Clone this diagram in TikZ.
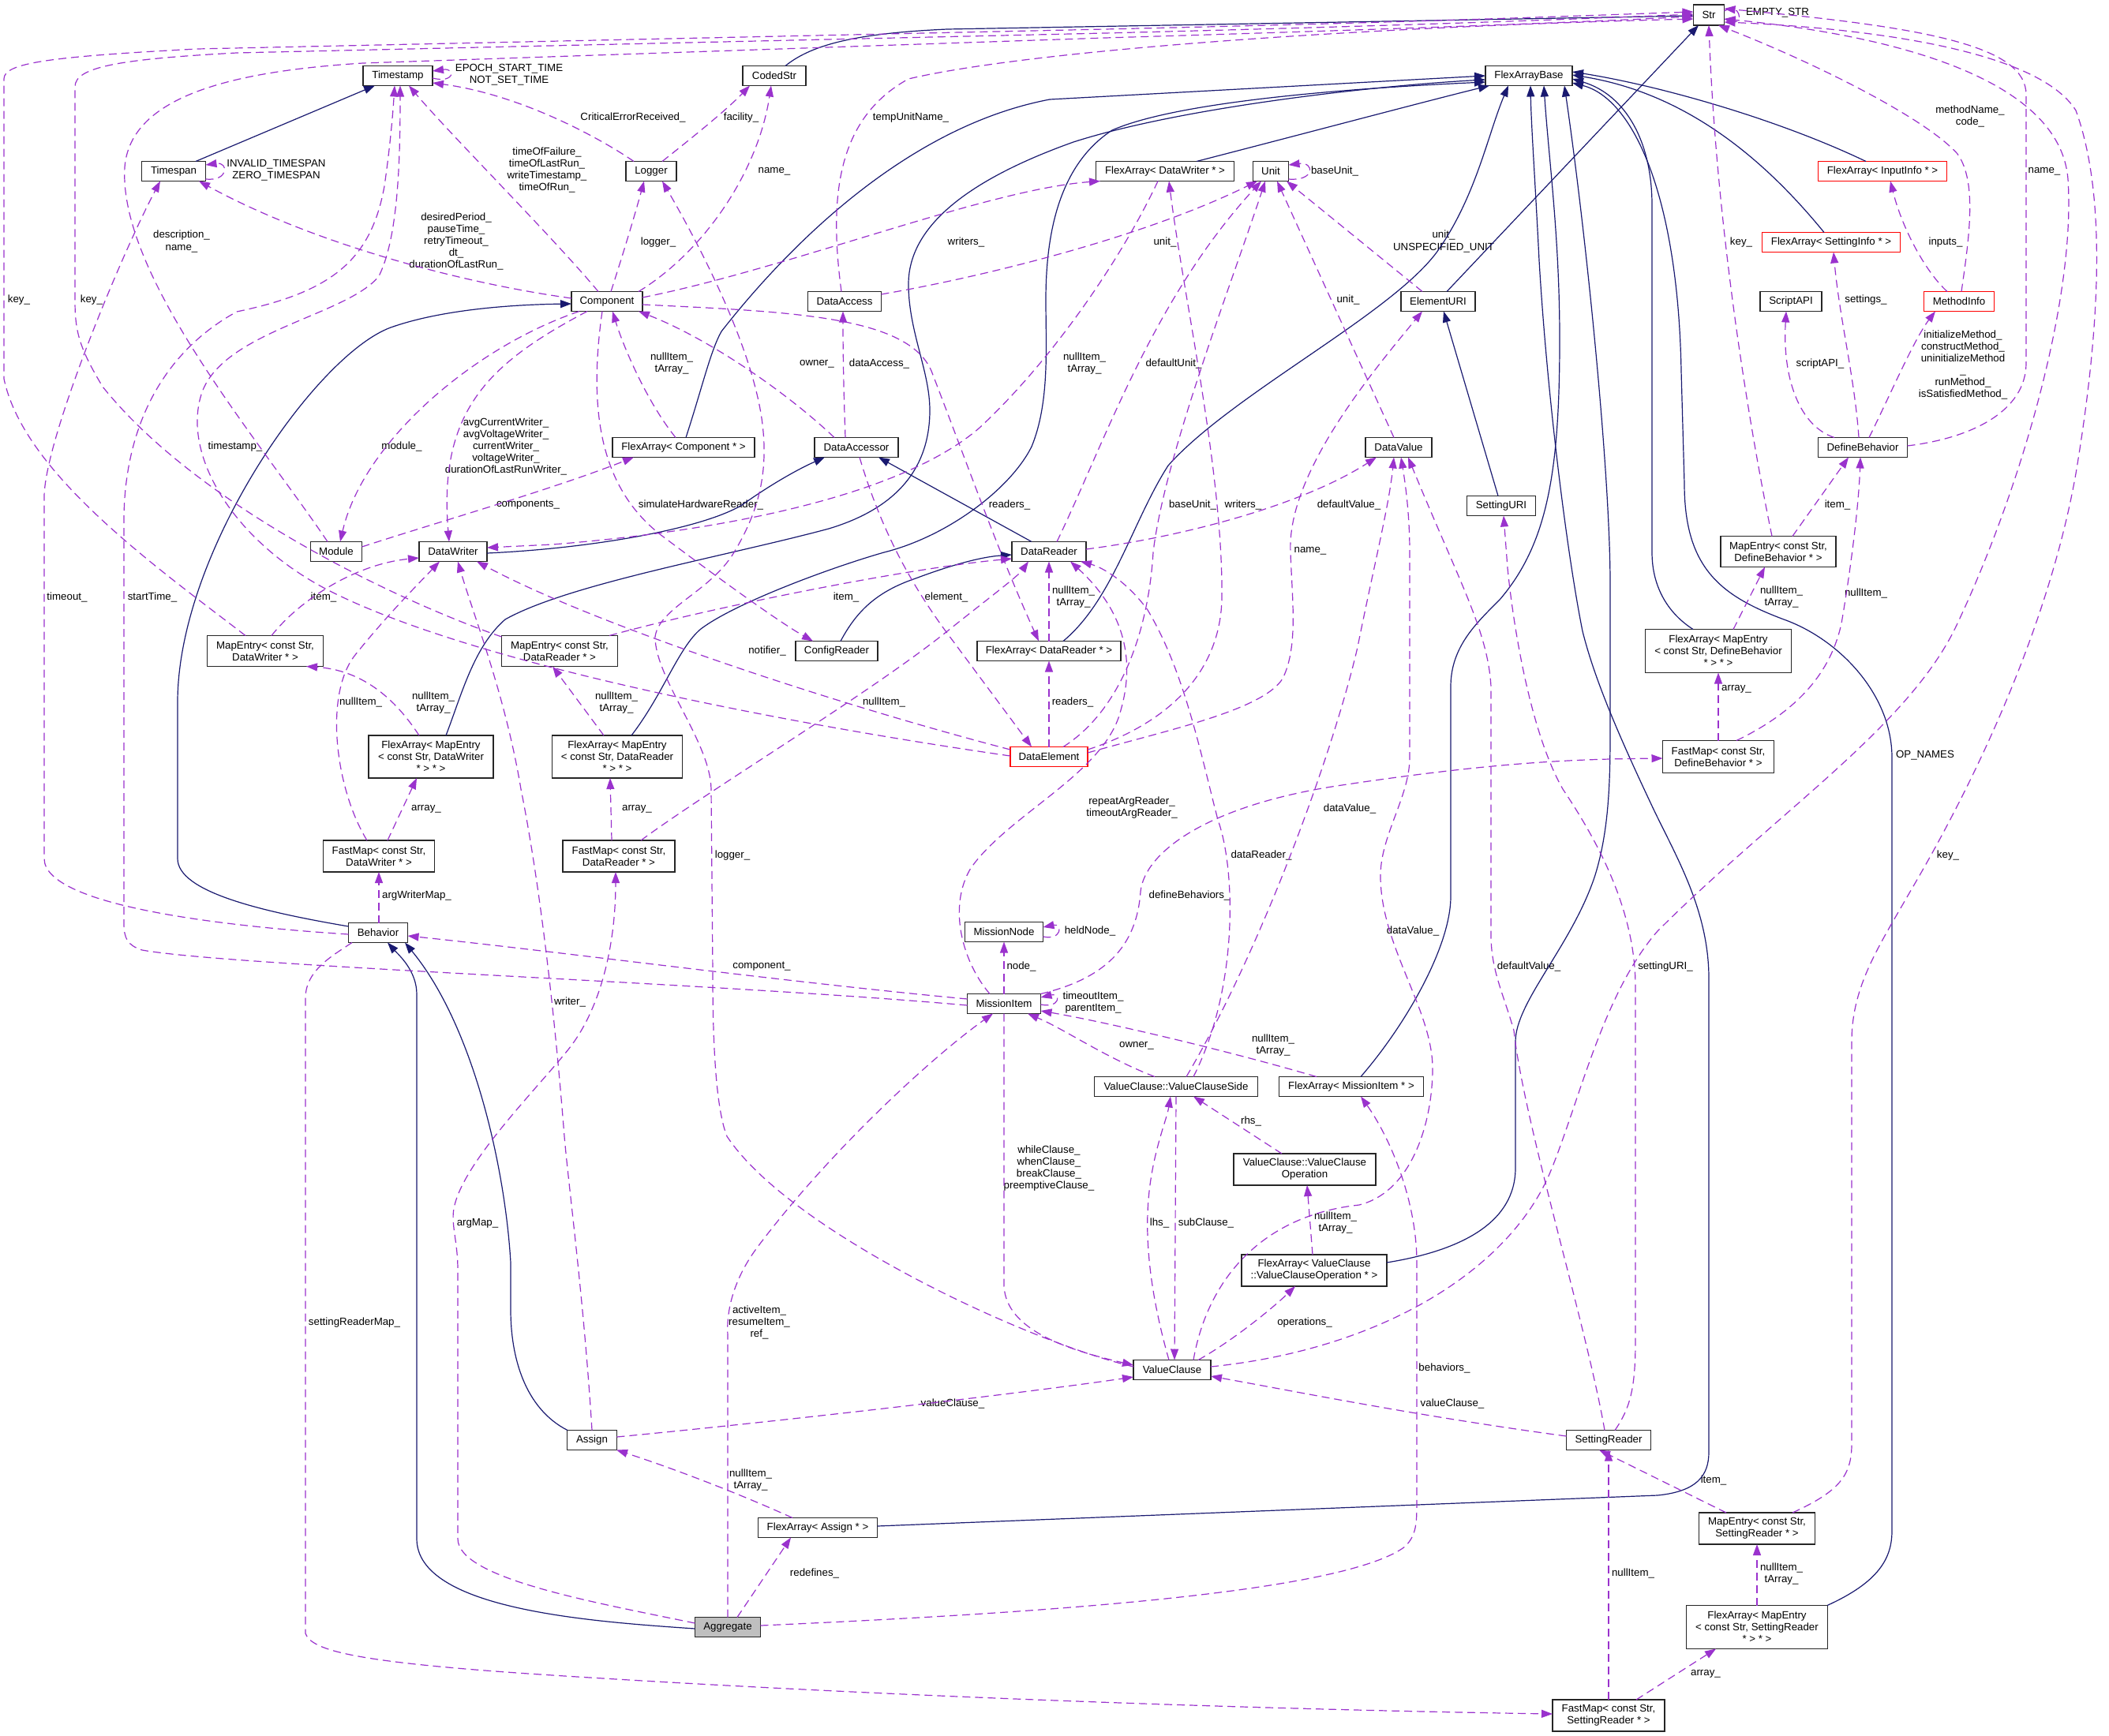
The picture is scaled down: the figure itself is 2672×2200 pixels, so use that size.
\documentclass[tikz,border=0pt]{standalone}
\usepackage{fontspec}
\setmainfont{Liberation Sans}
\usetikzlibrary{arrows.meta,calc}
\definecolor{navy}{HTML}{191970}
\definecolor{orchid}{HTML}{9A32CD}
\newcommand\dfont{\fontsize{13.3pt}{15pt}\selectfont}
\newcommand\nd[7][]{\node[box,#1,minimum width=#5pt,minimum height=#6pt] (#2) at (#3,#4) {#7};}
\newcommand\lb[4]{\node[lbl] (#1) at (#2,#3) {#4};}
\begin{document}
\begin{tikzpicture}[x=1pt,y=-1pt,
  box/.style={draw=black!85,line width=1.4pt,fill=white,inner sep=0pt,align=center,font=\dfont},
  lbl/.style={inner sep=0pt,align=center,font=\dfont},
  inh/.style={draw=navy,line width=1.2pt,-{Triangle[length=14pt,width=10pt]}},
  use/.style={draw=orchid,line width=1.2pt,dash pattern=on 10pt off 6pt,-{Triangle[length=14pt,width=10pt]}}]
\fill[white] (0,0) rectangle (2672,2200);
\useasboundingbox (0,0) rectangle (2672,2200);
% ---------------- nodes
\nd{Str}{2165}{19}{39}{26}{Str}
\nd{Timestamp}{504}{96}{88}{25}{Timestamp}
\nd{CodedStr}{981}{96}{80}{25}{CodedStr}
\nd{FAB}{1937}{96}{110}{25}{FlexArrayBase}
\nd{Timespan}{220}{217}{81}{25}{Timespan}
\nd{Logger}{825}{217}{64}{25}{Logger}
\nd{FADW}{1476}{217}{175}{25}{FlexArray< DataWriter * >}
\nd{Unit}{1610}{217}{45}{25}{Unit}
\nd[draw=red]{FAII}{2385}{217}{163}{25}{FlexArray< InputInfo * >}
\nd[draw=red]{FASI}{2320}{307}{175}{25}{FlexArray< SettingInfo * >}
\nd{Component}{769}{382}{90}{25}{Component}
\nd{DataAccess}{1070}{382}{93}{25}{DataAccess}
\nd{ElementURI}{1822}{382}{94}{25}{ElementURI}
\nd{ScriptAPI}{2269}{382}{78}{25}{ScriptAPI}
\nd[draw=red]{MethodInfo}{2482}{382}{89}{25}{MethodInfo}
\nd{FAComp}{866}{567}{180}{25}{FlexArray< Component * >}
\nd{DataAccessor}{1085}{567}{106}{25}{DataAccessor}
\nd{DataValue}{1772}{567}{84}{25}{DataValue}
\nd{DefineBehavior}{2360}{567}{113}{25}{DefineBehavior}
\nd{SettingURI}{1902}{641}{87}{25}{SettingURI}
\nd{Module}{426}{699}{65}{25}{Module}
\nd{DataWriter}{574}{699}{86}{25}{DataWriter}
\nd{DataReader}{1329}{699}{94}{25}{DataReader}
\nd{MEDB}{2253}{699}{146}{39}{MapEntry< const Str,\\ DefineBehavior * >}
\nd{MEDW}{336}{825}{147}{39}{MapEntry< const Str,\\ DataWriter * >}
\nd{MEDR}{709}{825}{147}{39}{MapEntry< const Str,\\ DataReader * >}
\nd{ConfigReader}{1060}{825}{104}{25}{ConfigReader}
\nd{FADR}{1329}{825}{182}{25}{FlexArray< DataReader * >}
\nd{FAMEDB}{2177}{825}{185}{55}{FlexArray< MapEntry\\< const Str, DefineBehavior\\ * > * >}
\nd{FAMEDW}{546}{959}{158}{54}{FlexArray< MapEntry\\< const Str, DataWriter\\ * > * >}
\nd{FAMEDR}{782}{959}{165}{54}{FlexArray< MapEntry\\< const Str, DataReader\\ * > * >}
\nd[draw=red]{DataElement}{1329}{959}{98}{25}{DataElement}
\nd{FMDB}{2177}{959}{141}{41}{FastMap< const Str,\\ DefineBehavior * >}
\nd{FMDW}{480}{1085}{141}{40}{FastMap< const Str,\\ DataWriter * >}
\nd{FMDR}{784}{1085}{142}{40}{FastMap< const Str,\\ DataReader * >}
\nd{Behavior}{479}{1182}{75}{25}{Behavior}
\nd{MissionNode}{1272}{1181}{99}{25}{MissionNode}
\nd{MissionItem}{1272}{1272}{93}{25}{MissionItem}
\nd{VCSide}{1490}{1377}{207}{25}{ValueClause::ValueClauseSide}
\nd{FAMI}{1712}{1377}{183}{25}{FlexArray< MissionItem * >}
\nd{VCOp}{1653}{1482}{180}{40}{ValueClause::ValueClause\\Operation}
\nd{FAVCOp}{1665}{1610}{184}{40}{FlexArray< ValueClause\\::ValueClauseOperation * >}
\nd{ValueClause}{1485}{1736}{98}{25}{ValueClause}
\nd{Assign}{750}{1825}{63}{25}{Assign}
\nd{SettingReader}{2038}{1825}{107}{25}{SettingReader}
\nd{FAAssign}{1036}{1936}{151}{25}{FlexArray< Assign * >}
\nd{MESR}{2226}{1937}{147}{40}{MapEntry< const Str,\\ SettingReader * >}
\nd[fill=gray!50]{Aggregate}{922}{2062}{83}{25}{Aggregate}
\nd{FAMESR}{2226}{2062}{179}{55}{FlexArray< MapEntry\\< const Str, SettingReader\\ * > * >}
\nd{FMSR}{2038}{2174}{142}{40}{FastMap< const Str,\\ SettingReader * >}
% ---------------- labels
\lb{l01}{2252}{16}{EMPTY\_STR}
\lb{l02}{645}{95}{EPOCH\_START\_TIME\\NOT\_SET\_TIME}
\lb{l03}{350}{216}{INVALID\_TIMESPAN\\ZERO\_TIMESPAN}
\lb{l04}{1691}{217}{baseUnit\_}
\lb{l05}{1381}{1180}{heldNode\_}
\lb{l06}{1385}{1271}{timeoutItem\_\\parentItem\_}
\lb{l07}{802}{149}{CriticalErrorReceived\_}
\lb{l08}{939}{149}{facility\_}
\lb{l09}{981}{217}{name\_}
\lb{l10}{834}{307}{logger\_}
\lb{l11}{693}{216}{timeOfFailure\_\\timeOfLastRun\_\\writeTimestamp\_\\timeOfRun\_}
\lb{l12}{578}{306}{desiredPeriod\_\\pauseTime\_\\retryTimeout\_\\dt\_\\durationOfLastRun\_}
\lb{l13}{509}{566}{module\_}
\lb{l14}{641}{566}{avgCurrentWriter\_\\avgVoltageWriter\_\\currentWriter\_\\voltageWriter\_\\durationOfLastRunWriter\_}
\lb{l15}{1224}{307}{writers\_}
\lb{l16}{888}{640}{simulateHardwareReader\_}
\lb{l17}{1279}{640}{readers\_}
\lb{l18}{1035}{461}{owner\_}
\lb{l19}{1114}{461}{dataAccess\_}
\lb{l20}{851}{461}{nullItem\_\\tArray\_}
\lb{l21}{1154}{149}{tempUnitName\_}
\lb{l22}{928}{1084}{logger\_}
\lb{l23}{1487}{461}{defaultUnit\_}
\lb{l24}{1374}{461}{nullItem\_\\tArray\_}
\lb{l25}{1360}{757}{nullItem\_\\tArray\_}
\lb{l26}{1359}{890}{readers\_}
\lb{l27}{1199}{757}{element\_}
\lb{l28}{972}{825}{notifier\_}
\lb{l29}{298}{566}{timestamp\_}
\lb{l30}{193}{757}{startTime\_}
\lb{l31}{85}{757}{timeout\_}
\lb{l32}{24}{380}{key\_}
\lb{l33}{116}{380}{key\_}
\lb{l34}{230}{306}{description\_\\name\_}
\lb{l35}{410}{757}{item\_}
\lb{l36}{457}{890}{nullItem\_}
\lb{l37}{549}{891}{nullItem\_\\tArray\_}
\lb{l38}{540}{1025}{array\_}
\lb{l39}{528}{1135}{argWriterMap\_}
\lb{l40}{781}{891}{nullItem\_\\tArray\_}
\lb{l41}{807}{1025}{array\_}
\lb{l42}{1120}{890}{nullItem\_}
\lb{l43}{1072}{757}{item\_}
\lb{l44}{605}{1550}{argMap\_}
\lb{l45}{449}{1676}{settingReaderMap\_}
\lb{l46}{965}{1225}{component\_}
\lb{l47}{962}{1676}{activeItem\_\\resumeItem\_\\ref\_}
\lb{l48}{1032}{1994}{redefines\_}
\lb{l49}{951}{1876}{nullItem\_\\tArray\_}
\lb{l50}{1207}{1779}{valueClause\_}
\lb{l51}{1830}{1734}{behaviors\_}
\lb{l52}{1507}{1135}{defineBehaviors\_}
\lb{l53}{1434}{1024}{repeatArgReader\_\\timeoutArgReader\_}
\lb{l54}{1294}{1225}{node\_}
\lb{l55}{1329}{1481}{whileClause\_\\whenClause\_\\breakClause\_\\preemptiveClause\_}
\lb{l56}{1440}{1325}{owner\_}
\lb{l57}{1613}{1325}{nullItem\_\\tArray\_}
\lb{l58}{1598}{1084}{dataReader\_}
\lb{l59}{1710}{1025}{dataValue\_}
\lb{l60}{1790}{1180}{dataValue\_}
\lb{l61}{1709}{640}{defaultValue\_}
\lb{l62}{1660}{698}{name\_}
\lb{l63}{1511}{640}{baseUnit\_}
\lb{l64}{1575}{640}{writers\_}
\lb{l65}{722}{1270}{writer\_}
\lb{l66}{1840}{1779}{valueClause\_}
\lb{l67}{1937}{1225}{defaultValue\_}
\lb{l68}{2110}{1225}{settingURI\_}
\lb{l69}{2171}{1876}{item\_}
\lb{l70}{2468}{1084}{key\_}
\lb{l71}{2257}{1995}{nullItem\_\\tArray\_}
\lb{l72}{2161}{2121}{array\_}
\lb{l73}{2069}{1994}{nullItem\_}
\lb{l74}{1469}{1550}{lhs\_}
\lb{l75}{1528}{1550}{subClause\_}
\lb{l76}{1585}{1421}{rhs\_}
\lb{l77}{1692}{1550}{nullItem\_\\tArray\_}
\lb{l78}{1653}{1676}{operations\_}
\lb{l79}{2439}{957}{OP\_NAMES}
\lb{l80}{2496}{148}{methodName\_\\code\_}
\lb{l81}{2465}{307}{inputs\_}
\lb{l82}{2306}{461}{scriptAPI\_}
\lb{l83}{2364}{380}{settings\_}
\lb{l84}{2487}{462}{initializeMethod\_\\constructMethod\_\\uninitializeMethod\\\_\\runMethod\_\\isSatisfiedMethod\_}
\lb{l85}{2590}{217}{name\_}
\lb{l86}{2206}{307}{key\_}
\lb{l87}{2328}{640}{item\_}
\lb{l88}{2257}{757}{nullItem\_\\tArray\_}
\lb{l89}{2200}{873}{array\_}
\lb{l90}{2364}{752}{nullItem\_}
\lb{l91}{669}{640}{components\_}
\lb{l92}{1708}{380}{unit\_}
\lb{l93}{1829}{306}{unit\_\\UNSPECIFIED\_UNIT}
\lb{l94}{1476}{307}{unit\_}
% ---------------- inheritance
\draw[inh] ($(CodedStr)+(14,-12.5)$) .. controls (1030,55) and (1090,42) .. (1200,37) -- ($(Str)+(-19.5,1)$);
\draw[inh] ($(Timespan)+(28,-12.5)$) -- ($(Timestamp)+(-29,12.5)$);
\draw[inh] ($(ElementURI)+(11,-12.5)$) -- ($(Str)+(-13,13)$);
\draw[inh] ($(SettingURI)+(-4,-12.5)$) -- ($(ElementURI)+(7,12.5)$);
\draw[inh] ($(DataReader)+(-22,-12.5)$) -- ($(DataAccessor)+(28,12.5)$);
\draw[inh] ($(DataWriter)+(43,2)$) .. controls (750,695) and (890,670) .. (940,640) .. controls (975,615) and (1010,595) .. ($(DataAccessor)+(-40,12.5)$);
\draw[inh] ($(ConfigReader)+(5,-12.5)$) .. controls (1085,775) and (1110,750) .. (1160,733) .. controls (1200,718) and (1240,706) .. ($(DataReader)+(-47,4)$);
\draw[inh] ($(Behavior)+(-37.5,-8)$) .. controls (330,1155) and (225,1130) .. (225,1088) -- (225,890) .. controls (225,700) and (400,450) .. (495,415) .. controls (560,392) and (650,386) .. ($(Component)+(-45,3)$);
\draw[inh] ($(Assign)+(-31,-12.5)$) .. controls (665,1785) and (647,1720) .. (647,1660) -- (647,1600) .. controls (640,1480) and (600,1300) .. ($(Behavior)+(34,12.5)$);
\draw[inh] ($(Aggregate)+(-41.5,2)$) .. controls (750,2055) and (528,2040) .. (528,1950) -- (528,1260) .. controls (528,1230) and (505,1210) .. ($(Behavior)+(12,12.5)$);
\draw[inh] ($(FAComp)+(3,-12.5)$) .. controls (890,490) and (900,445) .. (914,420) .. controls (1000,310) and (1150,160) .. (1330,126) -- ($(FAB)+(-55,0)$);
\draw[inh] ($(FAMEDW)+(19,-27)$) .. controls (585,880) and (600,820) .. (640,785) .. controls (720,740) and (920,705) .. (1050,670) .. controls (1150,640) and (1178,580) .. (1178,520) .. controls (1178,470) and (1151,420) .. (1151,360) .. controls (1151,290) and (1220,230) .. (1360,180) .. controls (1500,135) and (1750,108) .. ($(FAB)+(-55,5)$);
\draw[inh] ($(FAMEDR)+(18,-27)$) .. controls (840,880) and (860,820) .. (888,797) .. controls (930,765) and (1050,720) .. (1120,700) .. controls (1200,680) and (1280,620) .. (1307,566) .. controls (1330,510) and (1325,440) .. (1325,380) .. controls (1325,300) and (1340,210) .. (1409,165) .. controls (1500,125) and (1750,110) .. ($(FAB)+(-55,8)$);
\draw[inh] ($(FADW)+(40,-12.5)$) .. controls (1650,170) and (1800,130) .. ($(FAB)+(-50,12.5)$);
\draw[inh] ($(FADR)+(18,-12.5)$) .. controls (1410,760) and (1435,660) .. (1480,590) .. controls (1560,500) and (1760,400) .. (1820,320) .. controls (1870,250) and (1885,170) .. ($(FAB)+(-26,12.5)$);
\draw[inh] ($(FAMI)+(12,-12.5)$) .. controls (1780,1300) and (1838,1200) .. (1838,1136) -- (1838,870) .. controls (1838,820) and (1870,790) .. (1900,760) .. controls (1960,690) and (1976,600) .. (1976,430) .. controls (1976,300) and (1962,200) .. ($(FAB)+(19,12.5)$);
\draw[inh] ($(FAAssign)+(75.5,-2)$) -- (2100,1895) .. controls (2150,1890) and (2165,1870) .. (2165,1840) -- (2165,1240) .. controls (2165,1150) and (2120,1080) .. (2090,1015) .. controls (2050,930) and (2020,860) .. (2005,800) .. controls (1985,700) and (1960,500) .. (1950,330) .. controls (1945,230) and (1940,160) .. ($(FAB)+(2,12.5)$);
\draw[inh] ($(FAVCOp)+(92,-10)$) .. controls (1850,1585) and (1920,1550) .. (1920,1480) -- (1920,1320) .. controls (1920,1270) and (1990,1200) .. (2020,1112) .. controls (2040,1050) and (2040,980) .. (2040,918) -- (2040,740) .. controls (2040,600) and (2010,300) .. ($(FAB)+(45,12.5)$);
\draw[inh] ($(FAMEDB)+(-32,-27.5)$) .. controls (2110,775) and (2093,740) .. (2093,700) -- (2093,260) .. controls (2093,180) and (2060,120) .. ($(FAB)+(55,4)$);
\draw[inh] ($(FAMESR)+(89,-27.5)$) .. controls (2380,2005) and (2397,1975) .. (2397,1940) -- (2397,960) .. controls (2397,880) and (2330,810) .. (2260,785) .. controls (2180,755) and (2134,720) .. (2134,613) -- (2130,470) .. controls (2126,250) and (2070,125) .. ($(FAB)+(55,9)$);
\draw[inh] ($(FAII)+(-21,-12.5)$) .. controls (2250,150) and (2100,108) .. ($(FAB)+(55,-5)$);
\draw[inh] ($(FASI)+(-9,-12.5)$) .. controls (2250,220) and (2150,120) .. ($(FAB)+(55,-1)$);
% ---------------- usage: self loops
\draw[use] ($(Str)+(19.5,-5)$) .. controls (2205,2) and (2208,30) .. ($(Str)+(19.5,5)$);
\draw[use] ($(Timestamp)+(44,3)$) .. controls (576,106) and (578,86) .. ($(Timestamp)+(44,-6)$);
\draw[use] ($(Timespan)+(40.5,10)$) .. controls (290,230) and (290,205) .. ($(Timespan)+(40.5,-8)$);
\draw[use] ($(Unit)+(22.5,10)$) .. controls (1666,230) and (1666,205) .. ($(Unit)+(22.5,-8)$);
\draw[use] ($(MissionNode)+(49.5,6)$) .. controls (1346,1192) and (1346,1170) .. ($(MissionNode)+(49.5,-6)$);
\draw[use] ($(MissionItem)+(46.5,1)$) .. controls (1344,1278) and (1344,1258) .. ($(MissionItem)+(46.5,-8)$);
% ---------------- usage edges
\draw[use] ($(Logger)+(-22,-12.5)$) .. controls (760,175) and (660,120) .. ($(Timestamp)+(44,9)$);
\draw[use] ($(Logger)+(14,-12.5)$) .. controls (870,180) and (920,140) .. ($(CodedStr)+(-31,12.5)$);
\draw[use] ($(Component)+(40,-12.5)$) .. controls (890,320) and (960,220) .. ($(CodedStr)+(-4,12.5)$);
\draw[use] ($(Component)+(5,-12.5)$) .. controls (790,320) and (805,270) .. ($(Logger)+(-9,12.5)$);
\draw[use] ($(Component)+(-11,-12.5)$) .. controls (700,300) and (570,170) .. ($(Timestamp)+(14,12.5)$);
\draw[use] ($(Component)+(-45,-4)$) .. controls (560,355) and (380,300) .. ($(Timespan)+(32,12.5)$);
\draw[use] ($(Component)+(-35,12.5)$) .. controls (600,440) and (460,560) .. ($(Module)+(5,-12.5)$);
\draw[use] ($(Component)+(-25,12.5)$) .. controls (620,460) and (555,520) .. ($(DataWriter)+(-5,-12.5)$);
\draw[use] ($(Component)+(45,-5)$) .. controls (1000,340) and (1250,240) .. ($(FADW)+(-82,12.5)$);
\draw[use] ($(Component)+(-6,12.5)$) .. controls (745,520) and (760,620) .. (840,680) .. controls (920,740) and (990,790) .. ($(ConfigReader)+(-30,-12.5)$);
\draw[use] ($(Component)+(45,4)$) .. controls (1000,395) and (1150,400) .. (1180,470) .. controls (1230,600) and (1265,700) .. ($(FADR)+(-13,-12.5)$);
\draw[use] ($(DataAccessor)+(-28,-12.5)$) .. controls (1000,500) and (900,430) .. ($(Component)+(40,12.5)$);
\draw[use] ($(DataAccessor)+(-14,-12.5)$) .. controls (1069,500) and (1068,450) .. ($(DataAccess)+(-2,12.5)$);
\draw[use] ($(FAComp)+(-10,-12.5)$) .. controls (820,510) and (790,440) .. ($(Component)+(7,12.5)$);
\draw[use] ($(DataAccess)+(-4,-12.5)$) .. controls (1050,250) and (1060,150) .. (1151,100) .. controls (1300,65) and (1700,35) .. ($(Str)+(-19.5,5)$);
\draw[use] ($(ValueClause)+(-49,-4)$) .. controls (1300,1700) and (1000,1560) .. (921,1440) .. controls (905,1400) and (903,1300) .. (903,1233) -- (901,1000) .. controls (900,940) and (830,860) .. (830,807) .. controls (835,770) and (900,750) .. (930,700) .. controls (960,650) and (975,600) .. (965,530) .. controls (950,430) and (880,300) .. ($(Logger)+(14,12.5)$);
\draw[use] ($(DataReader)+(10,-12.5)$) .. controls (1400,560) and (1460,380) .. ($(Unit)+(-12,12.5)$);
\draw[use] ($(FADW)+(-9,12.5)$) .. controls (1420,330) and (1330,460) .. (1240,543) .. controls (1150,620) and (950,670) .. (700,690) -- ($(DataWriter)+(43,-5)$);
\draw[use] ($(FADR)+(0,-12.5)$) -- ($(DataReader)+(0,12.5)$);
\draw[use] ($(DataElement)+(0,-12.5)$) -- ($(FADR)+(0,12.5)$);
\draw[use] ($(DataAccessor)+(4,12.5)$) .. controls (1110,650) and (1140,720) .. (1196,797) -- ($(DataElement)+(-22,-12.5)$);
\draw[use] ($(DataElement)+(-49,-9)$) .. controls (1050,890) and (750,790) .. ($(DataWriter)+(30,12.5)$);
\draw[use] ($(DataElement)+(-49,-1)$) .. controls (1050,925) and (620,850) .. (420,750) .. controls (300,690) and (230,580) .. (255,500) .. controls (280,420) and (440,400) .. (480,350) .. controls (505,300) and (507,200) .. ($(Timestamp)+(3,12.5)$);
\draw[use] ($(MissionItem)+(-46.5,2)$) .. controls (900,1245) and (300,1225) .. (180,1204) .. controls (162,1198) and (157,1190) .. (157,1170) -- (157,660) .. controls (157,550) and (200,450) .. (300,395) .. controls (420,370) and (470,330) .. (487,236) .. controls (495,180) and (498,140) .. ($(Timestamp)+(-4,12.5)$);
\draw[use] ($(MEDW)+(8,-19.5)$) .. controls (380,760) and (450,715) .. ($(DataWriter)+(-43,8)$);
\draw[use] ($(FMDW)+(-15,-20)$) .. controls (425,1000) and (410,880) .. (450,830) .. controls (490,780) and (530,740) .. ($(DataWriter)+(-17,12.5)$);
\draw[use] ($(FAMEDW)+(-15,-27)$) .. controls (510,900) and (470,850) .. ($(MEDW)+(52,19.5)$);
\draw[use] ($(FMDW)+(11,-20)$) -- ($(FAMEDW)+(-18,27)$);
\draw[use] ($(Behavior)+(1,-12.5)$) -- ($(FMDW)+(0,20)$);
\draw[use] ($(Behavior)+(-37.5,2)$) .. controls (300,1175) and (56,1150) .. (56,1088) -- (56,630) .. controls (56,560) and (150,330) .. ($(Timespan)+(-17,12.5)$);
\draw[use] ($(MEDW)+(-25,-19.5)$) .. controls (200,720) and (30,600) .. (5,480) -- (5,100) .. controls (5,80) and (60,72) .. (250,62) -- (1400,37) .. controls (1800,28) and (2000,20) .. ($(Str)+(-19.5,-4)$);
\draw[use] ($(MEDR)+(-73.5,-18)$) .. controls (500,760) and (250,640) .. (130,490) .. controls (100,440) and (95,420) .. (95,380) -- (95,110) .. controls (95,85) and (150,75) .. (300,67) -- (1400,42) .. controls (1800,32) and (2000,24) .. ($(Str)+(-19.5,-1)$);
\draw[use] ($(Module)+(-11,-12.5)$) .. controls (330,560) and (150,350) .. (158,212) .. controls (165,120) and (300,90) .. (460,80) -- (1400,48) .. controls (1800,36) and (2000,28) .. ($(Str)+(-19.5,2)$);
\draw[use] ($(FAMEDR)+(-17,-27)$) -- ($(MEDR)+(-9,19.5)$);
\draw[use] ($(FMDR)+(-9,-20)$) -- ($(FAMEDR)+(-9,27)$);
\draw[use] ($(FMDR)+(28,-20)$) .. controls (900,1000) and (1100,880) .. (1200,800) .. controls (1250,760) and (1290,730) .. ($(DataReader)+(-26,12.5)$);
\draw[use] ($(MEDR)+(63,-19.5)$) .. controls (900,770) and (1150,720) .. ($(DataReader)+(-47,9)$);
\draw[use] ($(Aggregate)+(-41.5,-5)$) .. controls (750,2030) and (580,2000) .. (580,1950) -- (580,1610) .. controls (580,1570) and (570,1550) .. (576,1527) .. controls (590,1470) and (680,1380) .. (720,1330) .. controls (760,1280) and (780,1200) .. ($(FMDR)+(-4,20)$);
\draw[use] ($(Behavior)+(-33,12.5)$) .. controls (420,1212) and (387,1230) .. (387,1265) -- (387,2070) .. controls (395,2092) and (450,2107) .. (700,2123) .. controls (1200,2155) and (1700,2168) .. ($(FMSR)+(-71,-2)$);
\draw[use] ($(MissionItem)+(-46.5,-6)$) .. controls (1000,1245) and (700,1205) .. ($(Behavior)+(37.5,4)$);
\draw[use] ($(Aggregate)+(0,-12.5)$) -- (922,1692) .. controls (920,1660) and (930,1620) .. (960,1580) .. controls (1050,1460) and (1180,1340) .. ($(MissionItem)+(-14,12.5)$);
\draw[use] ($(Aggregate)+(12,-12.5)$) -- ($(FAAssign)+(-34,12.5)$);
\draw[use] ($(FAAssign)+(-32,-12.5)$) .. controls (930,1890) and (850,1860) .. ($(Assign)+(31,12.5)$);
\draw[use] ($(Aggregate)+(41.5,-2)$) .. controls (1300,2045) and (1700,2020) .. (1780,1960) .. controls (1795,1945) and (1795,1930) .. (1795,1900) -- (1795,1600) .. controls (1795,1520) and (1760,1440) .. ($(FAMI)+(12,12.5)$);
\draw[use] ($(MissionItem)+(46.5,-12.5)$) .. controls (1400,1240) and (1440,1200) .. (1445,1130) .. controls (1450,1080) and (1530,1020) .. (1700,995) .. controls (1900,965) and (2000,962) .. ($(FMDB)+(-70.5,2)$);
\draw[use] ($(MissionItem)+(-18,-12.5)$) .. controls (1220,1220) and (1200,1150) .. (1230,1100) .. controls (1280,1030) and (1400,980) .. (1420,900) .. controls (1440,830) and (1420,770) .. ($(DataReader)+(27,12.5)$);
\draw[use] ($(MissionItem)+(0,-12.5)$) -- ($(MissionNode)+(0,12.5)$);
\draw[use] ($(MissionItem)+(0,12.5)$) -- (1272,1630) .. controls (1275,1685) and (1350,1710) .. ($(ValueClause)+(-49,-6)$);
\draw[use] ($(VCSide)+(-27,-12.5)$) .. controls (1400,1340) and (1350,1305) .. ($(MissionItem)+(30,12.5)$);
\draw[use] ($(FAMI)+(-44,-12.5)$) .. controls (1550,1330) and (1400,1295) .. ($(MissionItem)+(46.5,9)$);
\draw[use] ($(VCSide)+(22,-12.5)$) .. controls (1570,1250) and (1565,1100) .. (1543,1039) .. controls (1520,950) and (1500,850) .. (1454,773) .. controls (1430,740) and (1400,720) .. ($(DataReader)+(40,12.5)$);
\draw[use] ($(VCSide)+(13,-12.5)$) .. controls (1600,1200) and (1690,950) .. (1720,820) .. controls (1740,720) and (1760,640) .. ($(DataValue)+(-6,12.5)$);
\draw[use] ($(ValueClause)+(27,-12.5)$) .. controls (1530,1620) and (1600,1540) .. (1722,1527) .. controls (1790,1510) and (1815,1420) .. (1815,1354) .. controls (1815,1280) and (1750,1200) .. (1749,1112) .. controls (1748,1060) and (1786,1010) .. (1786,960) -- (1786,700) .. controls (1786,650) and (1780,610) .. ($(DataValue)+(3,12.5)$);
\draw[use] ($(DataReader)+(47,-3)$) .. controls (1500,680) and (1650,640) .. ($(DataValue)+(-28,12.5)$);
\draw[use] ($(DataElement)+(49,-5)$) .. controls (1480,925) and (1600,900) .. (1625,860) .. controls (1645,820) and (1637,760) .. (1635,700) .. controls (1630,600) and (1740,470) .. ($(ElementURI)+(-20,12.5)$);
\draw[use] ($(DataElement)+(18,-12.5)$) .. controls (1420,900) and (1455,800) .. (1461,700) .. controls (1475,580) and (1560,360) .. ($(Unit)+(-7,12.5)$);
\draw[use] ($(DataElement)+(49,-9)$) .. controls (1470,920) and (1545,860) .. (1548,760) .. controls (1550,600) and (1500,380) .. ($(FADW)+(5,12.5)$);
\draw[use] ($(Assign)+(0,-12.5)$) .. controls (740,1650) and (720,1500) .. (715,1440) .. controls (700,1250) and (680,1100) .. (660,1000) .. controls (640,880) and (600,780) .. ($(DataWriter)+(6,12.5)$);
\draw[use] ($(Assign)+(31.5,-4)$) .. controls (1000,1800) and (1300,1765) .. ($(ValueClause)+(-49,9)$);
\draw[use] ($(SettingReader)+(-53.5,-5)$) .. controls (1800,1795) and (1650,1765) .. ($(ValueClause)+(49,8)$);
\draw[use] ($(SettingReader)+(-5,-12.5)$) .. controls (2010,1680) and (1930,1420) .. (1918,1306) .. controls (1905,1260) and (1889,1230) .. (1889,1185) -- (1889,870) .. controls (1885,800) and (1850,740) .. ($(DataValue)+(12,12.5)$);
\draw[use] ($(SettingReader)+(8,-12.5)$) .. controls (2065,1785) and (2072,1760) .. (2072,1700) -- (2072,1250) .. controls (2072,1150) and (2020,1060) .. (1980,1000) .. controls (1940,930) and (1918,800) .. (1910,720) -- ($(SettingURI)+(3,12.5)$);
\draw[use] ($(MESR)+(-39,-20)$) -- ($(SettingReader)+(-12,12.5)$);
\draw[use] ($(MESR)+(45,-20)$) .. controls (2330,1890) and (2346,1870) .. (2346,1830) -- (2346,1320) .. controls (2346,1250) and (2380,1200) .. (2420,1130) .. controls (2520,960) and (2600,770) .. (2630,600) .. controls (2660,420) and (2670,250) .. (2630,140) .. controls (2580,60) and (2350,35) .. ($(Str)+(19.5,9)$);
\draw[use] ($(FAMESR)+(0,-27.5)$) -- ($(MESR)+(0,20)$);
\draw[use] ($(FMSR)+(35,-20)$) -- ($(FAMESR)+(-52,27.5)$);
\draw[use] ($(FMSR)+(0,-20)$) -- ($(SettingReader)+(0,12.5)$);
\draw[use] ($(ValueClause)+(-4,-12.5)$) .. controls (1460,1650) and (1450,1580) .. (1455,1520) .. controls (1460,1460) and (1478,1420) .. ($(VCSide)+(-7,12.5)$);
\draw[use] ($(VCSide)+(0,12.5)$) -- ($(ValueClause)+(3,-12.5)$);
\draw[use] ($(VCOp)+(-29,-20)$) -- ($(VCSide)+(22,12.5)$);
\draw[use] ($(FAVCOp)+(-2,-20)$) -- ($(VCOp)+(3,20)$);
\draw[use] ($(ValueClause)+(33,-12.5)$) .. controls (1560,1700) and (1610,1660) .. ($(FAVCOp)+(-24,20)$);
\draw[use] ($(ValueClause)+(49,-4)$) .. controls (1750,1710) and (1910,1610) .. (1963,1488) .. controls (2000,1400) and (2030,1260) .. (2100,1180) .. controls (2250,1030) and (2420,920) .. (2480,790) .. controls (2560,620) and (2630,380) .. (2620,227) .. controls (2610,100) and (2400,45) .. ($(Str)+(19.5,5)$);
\draw[use] ($(MethodInfo)+(3,-12.5)$) .. controls (2495,300) and (2505,230) .. (2480,195) .. controls (2440,150) and (2300,80) .. ($(Str)+(12,13)$);
\draw[use] ($(MethodInfo)+(-15,-12.5)$) .. controls (2440,345) and (2410,290) .. ($(FAII)+(10,12.5)$);
\draw[use] ($(DefineBehavior)+(-36,-12.5)$) .. controls (2280,540) and (2258,480) .. ($(ScriptAPI)+(-6,12.5)$);
\draw[use] ($(DefineBehavior)+(-5,-12.5)$) .. controls (2350,480) and (2330,400) .. ($(FASI)+(3,12.5)$);
\draw[use] ($(DefineBehavior)+(8,-12.5)$) .. controls (2395,500) and (2425,430) .. ($(MethodInfo)+(-30,12.5)$);
\draw[use] ($(DefineBehavior)+(56.5,-2)$) .. controls (2500,555) and (2567,520) .. (2567,460) -- (2567,120) .. controls (2567,60) and (2450,35) .. ($(Str)+(19.5,-8)$);
\draw[use] ($(MEDB)+(-8,-19.5)$) .. controls (2220,560) and (2175,300) .. ($(Str)+(0,13)$);
\draw[use] ($(MEDB)+(18,-19.5)$) -- ($(DefineBehavior)+(-18,12.5)$);
\draw[use] ($(FAMEDB)+(19,-27.5)$) -- ($(MEDB)+(-17,19.5)$);
\draw[use] ($(FMDB)+(0,-20.5)$) -- ($(FAMEDB)+(0,27.5)$);
\draw[use] ($(FMDB)+(23,-20.5)$) .. controls (2280,900) and (2320,850) .. (2333,790) .. controls (2345,720) and (2355,640) .. ($(DefineBehavior)+(-3,12.5)$);
\draw[use] ($(Module)+(32.5,-6)$) .. controls (560,660) and (700,620) .. ($(FAComp)+(-63,12.5)$);
\draw[use] ($(DataValue)+(-6,-12.5)$) -- ($(Unit)+(8,12.5)$);
\draw[use] ($(ElementURI)+(-20,-12.5)$) -- ($(Unit)+(20,12.5)$);
\draw[use] ($(DataAccess)+(46.5,-9)$) .. controls (1250,350) and (1450,300) .. ($(Unit)+(-17,12.5)$);
\end{tikzpicture}
\end{document}
